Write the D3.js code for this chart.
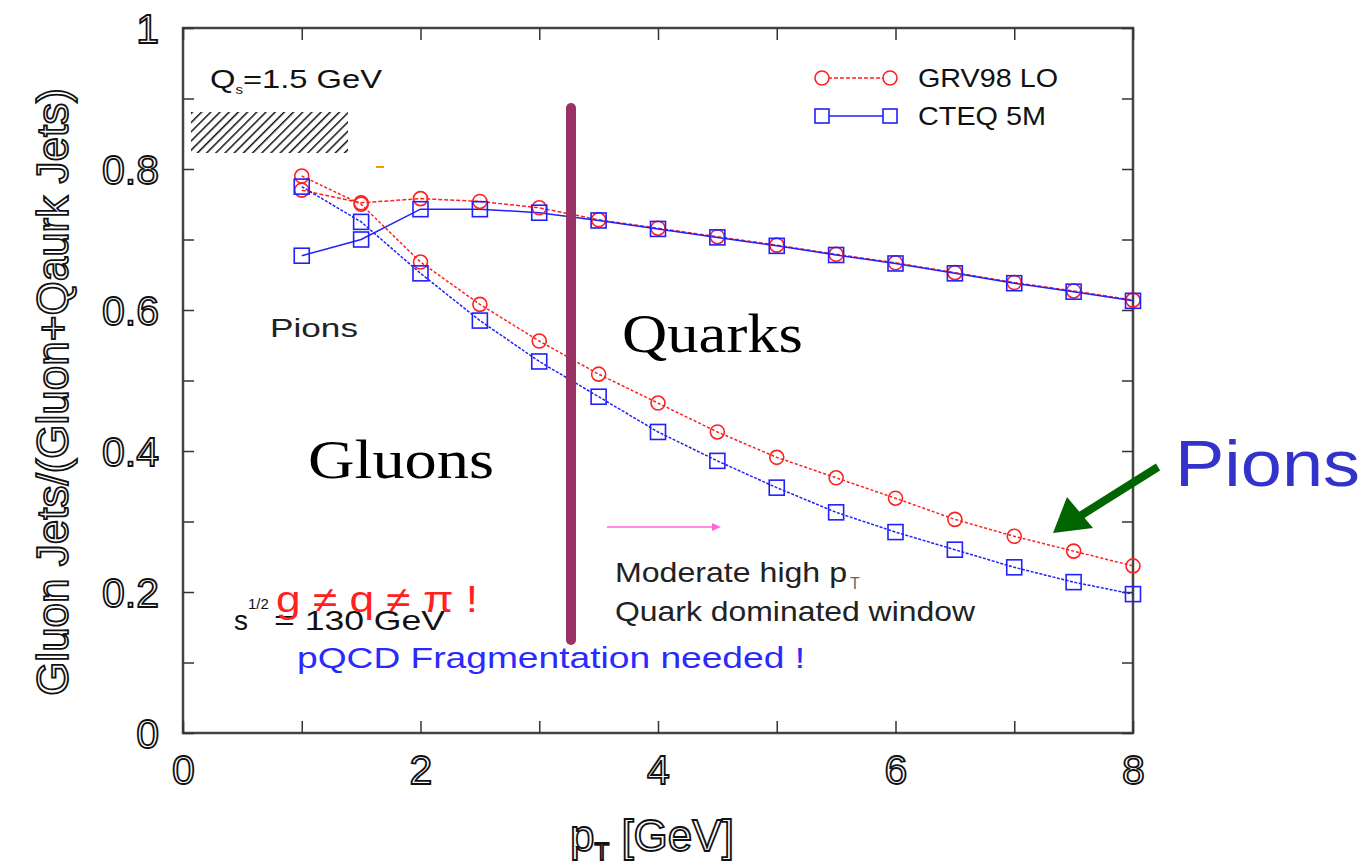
<!DOCTYPE html>
<html><head><meta charset="utf-8">
<script src="https://cdn.jsdelivr.net/npm/d3@7"></script>
<style>body{margin:0;background:#fff}svg{display:block}</style>
</head><body>
<svg id="c" width="1365" height="867"></svg>
<script>
const xs = [1,1.5,2,2.5,3,3.5,4,4.5,5,5.5,6,6.5,7,7.5,8];
const grvJets  = [0.770,0.752,0.758,0.754,0.745,0.728,0.716,0.704,0.692,0.679,0.667,0.653,0.639,0.627,0.614];
const cteqJets = [0.677,0.700,0.743,0.743,0.738,0.727,0.715,0.703,0.691,0.678,0.666,0.652,0.638,0.626,0.613];
const grvPions = [0.790,0.750,0.668,0.608,0.556,0.509,0.468,0.427,0.391,0.362,0.333,0.303,0.279,0.258,0.237];
const cteqPions= [0.775,0.725,0.652,0.585,0.527,0.477,0.427,0.386,0.348,0.313,0.285,0.260,0.235,0.214,0.197];
const xTicks = [0,2,4,6,8];
const yTicks = [0,0.2,0.4,0.6,0.8,1];
const xMinor = [0,1,2,3,4,5,6,7,8];
const yMinor = [0,0.1,0.2,0.3,0.4,0.5,0.6,0.7,0.8,0.9,1];
const legendLabels = ["GRV98 LO","CTEQ 5M"];

const svg = d3.select("#c");
const x = d3.scaleLinear().domain([0,8]).range([183,1133]);
const y = d3.scaleLinear().domain([0,1]).range([733,28]);
const sans = "Liberation Sans, Arial, Helvetica, sans-serif";
const serif = "Liberation Serif, Times New Roman, serif";

// hatch pattern
const defs = svg.append("defs");
const pat = defs.append("pattern").attr("id","hatch").attr("patternUnits","userSpaceOnUse")
  .attr("width",6.5).attr("height",6.5).attr("patternTransform","rotate(45)");
pat.append("rect").attr("width",6.5).attr("height",6.5).attr("fill","#fff");
pat.append("line").attr("x1",0).attr("y1",0).attr("x2",0).attr("y2",6.5).attr("stroke","#111").attr("stroke-width",3);

// frame
svg.append("rect").attr("x",x(0)).attr("y",y(1)).attr("width",x(8)-x(0)).attr("height",y(0)-y(1))
  .attr("fill","none").attr("stroke","#444").attr("stroke-width",2.5);

const outlined = sel => sel.attr("fill","#fff").attr("stroke","#111").attr("stroke-width",1.8)
  .attr("font-family",sans).attr("font-size",41);

// axes with inward ticks
const styleAxis = g => { g.select(".domain").remove(); g.selectAll(".tick line").attr("stroke","#333").attr("stroke-width",1.5); };
svg.append("g").attr("transform",`translate(0,${y(0)})`)
  .call(d3.axisBottom(x).tickValues(xMinor).tickSize(-12).tickFormat("")).call(styleAxis);
svg.append("g").attr("transform",`translate(0,${y(1)})`)
  .call(d3.axisTop(x).tickValues(xMinor).tickSize(-12).tickFormat("")).call(styleAxis);
svg.append("g").attr("transform",`translate(${x(0)},0)`)
  .call(d3.axisLeft(y).tickValues(yMinor).tickSize(-11).tickFormat("")).call(styleAxis);
svg.append("g").attr("transform",`translate(${x(8)},0)`)
  .call(d3.axisRight(y).tickValues(yMinor).tickSize(-11).tickFormat("")).call(styleAxis);

// labelled axes
const xa = svg.append("g").attr("transform",`translate(0,${y(0)})`)
  .call(d3.axisBottom(x).tickValues(xTicks).tickSize(0).tickPadding(22).tickFormat(d3.format("d")));
xa.select(".domain").remove();
xa.selectAll("text").call(outlined).attr("dy","0.71em");
const ya = svg.append("g").attr("transform",`translate(${x(0)},0)`)
  .call(d3.axisLeft(y).tickValues(yTicks).tickSize(0).tickPadding(24).tickFormat(d=>d===0?"0":(d===1?"1":d3.format(".1f")(d))));
ya.select(".domain").remove();
ya.selectAll("text").call(outlined).attr("dy","0.36em");

// axis titles
const xt = svg.append("text").attr("x",570).attr("y",851).call(outlined).attr("font-size",44);
xt.append("tspan").text("p");
xt.append("tspan").attr("font-size",24).attr("dy",9).text("T");
xt.append("tspan").attr("dy",-9).text(" [GeV]");
svg.append("text").attr("transform","translate(68,392) rotate(-90)").attr("text-anchor","middle")
  .call(outlined).attr("font-size",44).text("Gluon Jets/(Gluon+Qaurk Jets)");

// hatched box and Qs label
svg.append("rect").attr("x",191).attr("y",112).attr("width",157).attr("height",41).attr("fill","url(#hatch)");
const q = svg.append("text").attr("x",210).attr("y",88).attr("font-size",26).attr("font-family",sans).attr("fill","#111")
  .attr("textLength",172).attr("lengthAdjust","spacingAndGlyphs");
q.append("tspan").text("Q");
q.append("tspan").attr("font-size",12).attr("dy",6).text("s");
q.append("tspan").attr("dy",-6).text("=1.5 GeV");
svg.append("line").attr("x1",376).attr("x2",384).attr("y1",167).attr("y2",167).attr("stroke","#f90").attr("stroke-width",2);

// series
const series = [
  {v:grvJets, color:"#ff2020", dash:"4,2", shape:"circle"},
  {v:grvPions, color:"#ff2020", dash:"3,2", shape:"circle"},
  {v:cteqJets, color:"#2020ff", dash:null, shape:"square"},
  {v:cteqPions, color:"#2020ff", dash:"3,1.5", shape:"square"}
];
const line = d3.line().x(d=>x(d[0])).y(d=>y(d[1]));
series.forEach(s=>{
  const pts = xs.map((xv,i)=>[xv,s.v[i]]);
  svg.append("path").attr("d",line(pts)).attr("fill","none").attr("stroke",s.color)
    .attr("stroke-width",1.5).attr("stroke-dasharray",s.dash);
});
series.forEach(s=>{
  const pts = xs.map((xv,i)=>[xv,s.v[i]]);
  const g = svg.append("g");
  pts.forEach(p=>{
    if(s.shape==="circle") g.append("circle").attr("cx",x(p[0])).attr("cy",y(p[1])).attr("r",7)
      .attr("fill","none").attr("stroke",s.color).attr("stroke-width",1.6);
    else g.append("rect").attr("x",x(p[0])-7.5).attr("y",y(p[1])-7.5).attr("width",15).attr("height",15)
      .attr("fill","none").attr("stroke",s.color).attr("stroke-width",1.6);
  });
});

// legend
const lg = svg.append("g");
[[78,"#ff2020","circle","4,2",140],[116,"#2020ff","square",null,128]].forEach((r,i)=>{
  lg.append("line").attr("x1",822).attr("x2",890).attr("y1",r[0]).attr("y2",r[0]).attr("stroke",r[1])
    .attr("stroke-width",1.5).attr("stroke-dasharray",r[3]);
  [822,890].forEach(cx=>{
    if(r[2]==="circle") lg.append("circle").attr("cx",cx).attr("cy",r[0]).attr("r",7).attr("fill","#fff").attr("stroke",r[1]).attr("stroke-width",1.6);
    else lg.append("rect").attr("x",cx-7).attr("y",r[0]-7).attr("width",14).attr("height",14).attr("fill","#fff").attr("stroke",r[1]).attr("stroke-width",1.6);
  });
  lg.append("text").attr("x",918).attr("y",r[0]+9).attr("font-size",25).attr("font-family",sans).attr("fill","#111")
    .attr("textLength",r[4]).attr("lengthAdjust","spacingAndGlyphs").text(legendLabels[i]);
});

// annotations
const txt = (xx,yy,size,fam,col,len,t) => svg.append("text").attr("x",xx).attr("y",yy).attr("font-size",size)
  .attr("font-family",fam).attr("fill",col).attr("textLength",len).attr("lengthAdjust","spacingAndGlyphs").text(t);
txt(270,337,26,sans,"#222",88,"Pions");
txt(622,352,54,serif,"#000",181,"Quarks");
txt(308,478,54,serif,"#000",186,"Gluons");

// vertical bar
svg.append("line").attr("x1",571).attr("x2",571).attr("y1",108).attr("y2",640).attr("stroke","#993366")
  .attr("stroke-width",10).attr("stroke-linecap","round");

// magenta arrow
svg.append("line").attr("x1",607).attr("x2",718).attr("y1",527).attr("y2",527).attr("stroke","#ff66dd").attr("stroke-width",1.5);
svg.append("path").attr("d","M712,523 L721,527 L712,531 Z").attr("fill","#ff66dd");

txt(615,582,28,sans,"#222",232,"Moderate high p");
svg.append("text").attr("x",850).attr("y",589).attr("font-size",16).attr("font-family",sans).attr("fill","#666").text("T");
txt(615,621,28,sans,"#222",360,"Quark dominated window");

// sqrt s
svg.append("text").attr("x",234).attr("y",630).attr("font-size",28).attr("font-family",sans).attr("fill","#111").text("s");
svg.append("text").attr("x",248).attr("y",609).attr("font-size",15).attr("font-family",sans).attr("fill","#111").text("1/2");
txt(274,630,28,sans,"#111",171,"= 130 GeV");
txt(276,612,36,sans,"#ff2020",202,"g ≠ q ≠ π !");
txt(297,668,30,sans,"#2a2aff",508,"pQCD Fragmentation needed !");

// big Pions + green arrow
txt(1175,486,64,sans,"#3333cc",185,"Pions");
svg.append("line").attr("x1",1158).attr("y1",467).attr("x2",1080).attr("y2",516).attr("stroke","#006400").attr("stroke-width",8);
svg.append("path").attr("d","M1053,533 L1067,497 L1093,528 Z").attr("fill","#006400");
</script>
</body></html>
